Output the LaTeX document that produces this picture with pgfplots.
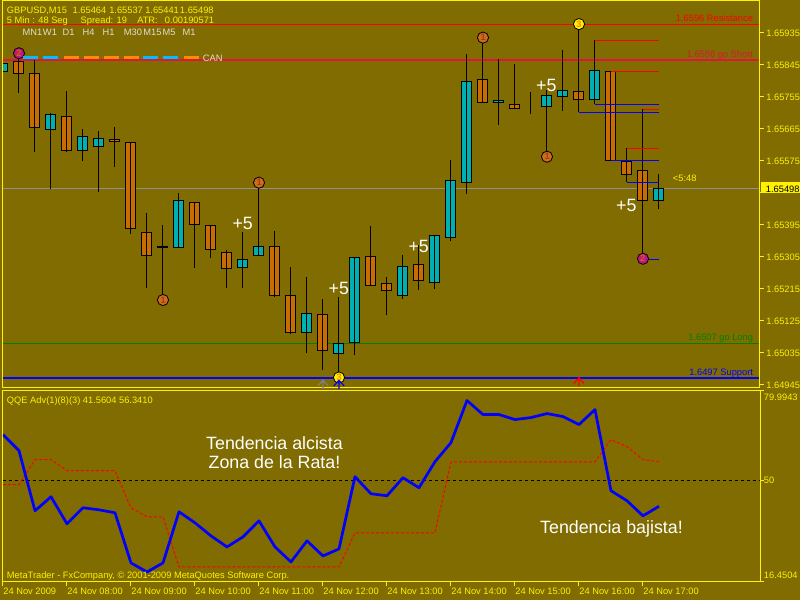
\documentclass[border=0pt]{standalone}
\usepackage{pgfplots}
\pgfplotsset{compat=1.18}
\usepackage{pgfplotstable}
\usepackage{fontspec}
\setmainfont{Liberation Sans}

\definecolor{bg}{HTML}{806C00}
\definecolor{bull}{HTML}{00B0B0}
\definecolor{bear}{HTML}{C86E00}
\definecolor{tfblue}{HTML}{00BFFF}
\definecolor{tforange}{HTML}{FF8C00}
\definecolor{tfgrey}{HTML}{E0E0D0}
\definecolor{lvlshort}{HTML}{E0143C}
\definecolor{lvllong}{HTML}{008000}
\definecolor{curprice}{HTML}{909090}
\definecolor{mkorange}{HTML}{D2691E}
\definecolor{mkmagenta}{HTML}{C0148C}

\newcommand\mt{\fontsize{4.65}{5.5}\selectfont}
\newcommand\bigtxt{\fontsize{8.9}{10}\selectfont}

% little up arrow used by the signal marks at the bottom
\pgfdeclareplotmark{uparr}{%
  \pgfpathmoveto{\pgfqpoint{-\pgfplotmarksize}{-0.4\pgfplotmarksize}}%
  \pgfpathlineto{\pgfqpoint{0pt}{0.7\pgfplotmarksize}}%
  \pgfpathlineto{\pgfqpoint{\pgfplotmarksize}{-0.4\pgfplotmarksize}}%
  \pgfpathmoveto{\pgfqpoint{0pt}{0.7\pgfplotmarksize}}%
  \pgfpathlineto{\pgfqpoint{0pt}{-\pgfplotmarksize}}%
  \pgfusepathqstroke}

% GBPUSD M15, bar 0 = 07:00
\pgfplotstableread{
i o h l c
0 1.65827 1.65856 1.65767 1.65850
1 1.65855 1.65882 1.65767 1.65822
2 1.65822 1.65859 1.65601 1.65670
3 1.65664 1.65711 1.65497 1.65707
4 1.65701 1.65772 1.65601 1.65605
5 1.65605 1.65665 1.65576 1.65644
6 1.65615 1.65659 1.65489 1.65639
7 1.65636 1.65670 1.65559 1.65630
8 1.65628 1.65628 1.65369 1.65386
9 1.65375 1.65428 1.65217 1.65310
10 1.65334 1.65394 1.65195 1.65331
11 1.65332 1.65484 1.65332 1.65464
12 1.65459 1.65459 1.65275 1.65397
13 1.65394 1.65394 1.65303 1.65327
14 1.65318 1.65325 1.65217 1.65273
15 1.65276 1.65375 1.65217 1.65299
16 1.65310 1.65512 1.65310 1.65334
17 1.65334 1.65377 1.65192 1.65197
18 1.65197 1.65276 1.65088 1.65092
19 1.65093 1.65249 1.65034 1.65147
20 1.65144 1.65186 1.64986 1.65043
21 1.65034 1.65192 1.64968 1.65062
22 1.65065 1.65304 1.65029 1.65304
23 1.65307 1.65391 1.65225 1.65225
24 1.65231 1.65248 1.65143 1.65211
25 1.65197 1.65310 1.65186 1.65279
26 1.65285 1.65340 1.65211 1.65240
27 1.65234 1.65366 1.65214 1.65366
28 1.65359 1.65578 1.65351 1.65521
29 1.65515 1.65875 1.65481 1.65799
30 1.65805 1.65921 1.65737 1.65740
31 1.65740 1.65861 1.65675 1.65746
32 1.65734 1.65847 1.65723 1.65723
33 1.65726 1.65768 1.65706 1.65726
34 1.65729 1.65774 1.65587 1.65760
35 1.65757 1.65886 1.65715 1.65774
36 1.65771 1.65962 1.65712 1.65749
37 1.65749 1.65915 1.65734 1.65830
38 1.65827 1.65827 1.65577 1.65577
39 1.65574 1.65611 1.65515 1.65538
40 1.65549 1.65720 1.65301 1.65464
41 1.65464 1.65537 1.65441 1.65498
}\candles

% QQE main line
\pgfplotstableread{
i v
0 65.36
1 60.03
2 40.07
3 44.73
4 35.75
5 41.07
6 40.40
7 39.41
8 22.77
9 19.78
10 22.77
11 39.74
12 36.08
13 31.75
14 28.09
15 31.42
16 36.74
17 28.09
18 23.10
19 30.09
20 25.10
21 27.43
22 51.38
23 45.73
24 45.06
25 51.05
26 47.72
27 56.37
28 62.69
29 76.67
30 72.01
31 72.01
32 70.35
33 71.01
34 72.34
35 71.34
36 68.68
37 73.67
38 46.73
39 43.40
40 38.41
41 41.56
}\qqe

% QQE trailing line
\pgfplotstableread{
i v
0 48.72
1 48.72
2 57.04
3 57.04
4 53.38
5 53.38
6 53.38
7 53.38
8 41.07
9 38.08
10 38.08
11 21.44
12 21.44
13 21.44
14 21.44
15 21.44
16 21.44
17 21.44
18 21.44
19 21.44
20 21.44
21 21.44
22 32.75
23 32.75
24 32.75
25 32.75
26 32.75
27 32.75
28 56.34
29 56.34
30 56.34
31 56.34
32 56.34
33 56.34
34 56.34
35 56.34
36 56.34
37 56.34
38 63.69
39 61.36
40 57.04
41 56.34
}\qqesig

\pgfplotsset{
  pricepanel/.style={at={(1.5pt,106pt)}, anchor=south west, scale only axis,
    width=378.5pt, height=193.5pt, xmin=0, xmax=47.3125,
    ymin=1.6493656, ymax=1.66025, enlargelimits=false},
}

\begin{document}
\begin{tikzpicture}
\fill[bg] (0,0) rectangle (400pt,300pt);

% levels behind the candles
\begin{axis}[pricepanel, hide axis]
  \addplot[red, line width=0.6pt] coordinates {(0,1.65960) (47.3125,1.65960)};
  \addplot[lvlshort, line width=0.6pt] coordinates {(0,1.65859) (47.3125,1.65859)};
  \addplot[curprice, line width=0.5pt] coordinates {(0,1.65498) (47.3125,1.65498)};
  \addplot[lvllong, line width=0.6pt] coordinates {(0,1.65062) (47.3125,1.65062)};
  \addplot[blue, line width=0.8pt] coordinates {(0,1.64965) (47.3125,1.64965)};
\end{axis}

% candles, y in pips above 1.6490 so the stacked bars start near the panel
\begin{axis}[pricepanel, hide axis, ymin=3.656, ymax=112.5,
    ybar stacked, bar width=0.625]
  \addplot[draw=none, fill=none,
      error bars/.cd, y dir=both, y explicit, error mark=none,
      error bar style={draw=black, line width=0.5pt}]
    table[x=i, y expr={(min(\thisrow{o},\thisrow{c})-1.649)*10000},
      y error plus expr={(\thisrow{h}-min(\thisrow{o},\thisrow{c}))*10000},
      y error minus expr={(min(\thisrow{o},\thisrow{c})-\thisrow{l})*10000}]{\candles};
  \addplot[fill=bull, draw=black, line width=0.5pt]
    table[x=i, y expr={max(\thisrow{c}-\thisrow{o},0)*10000}]{\candles};
  \addplot[fill=bear, draw=black, line width=0.5pt]
    table[x=i, y expr={max(\thisrow{o}-\thisrow{c},0)*10000}]{\candles};
\end{axis}

% frame, price scale, highs/lows and signal marks
\begin{axis}[pricepanel,
    axis line style={yellow, line width=0.5pt},
    xtick=\empty,
    ytick={1.64945,1.65035,1.65125,1.65215,1.65305,1.65395,1.65485,1.65575,1.65665,1.65755,1.65845,1.65935},
    yticklabels={1.64945,1.65035,1.65125,1.65215,1.65305,1.65395,,1.65575,1.65665,1.65755,1.65845,1.65935},
    ytick pos=right, yticklabel pos=right,
    tick align=outside, major tick length=2pt,
    tick style={yellow, line width=0.5pt},
    yticklabel style={font=\mt, text=yellow, inner sep=0pt, anchor=west},
    yticklabel shift=1pt]
  \addplot[red, line width=0.5pt] coordinates {(37,1.65914) (41,1.65914)};
  \addplot[red, line width=0.5pt] coordinates {(38,1.65827) (41,1.65827)};
  \addplot[red, line width=0.5pt] coordinates {(40,1.65720) (41,1.65720)};
  \addplot[red, line width=0.5pt] coordinates {(39,1.65611) (41,1.65611)};
  \addplot[blue, line width=0.5pt] coordinates {(37,1.65734) (41,1.65734)};
  \addplot[blue, line width=0.5pt] coordinates {(36,1.65712) (41,1.65712)};
  \addplot[blue, line width=0.5pt] coordinates {(38,1.65577) (41,1.65577)};
  \addplot[blue, line width=0.5pt] coordinates {(39,1.65515) (41,1.65515)};
  \addplot[blue, line width=0.5pt] coordinates {(40,1.65299) (41,1.65299)};
  \addplot[only marks, mark=*, mark size=2.8pt, mark options={draw=none, fill=mkorange}]
    coordinates {(10,1.65184) (16,1.65514) (30,1.65922) (34,1.65587)};
  \addplot[only marks, mark=*, mark size=2.8pt, mark options={draw=none, fill=mkmagenta}]
    coordinates {(1,1.65878) (40,1.65300)};
  \addplot[only marks, mark=*, mark size=2.8pt, mark options={draw=none, fill=yellow}]
    coordinates {(21,1.64966) (36,1.65960)};
  \addplot[only marks, mark=uparr, mark size=2.6pt, mark options={draw=gray, line width=0.6pt}]
    coordinates {(20,1.64948)};
  \addplot[only marks, mark=uparr, mark size=2.6pt, mark options={draw=blue, line width=0.6pt}]
    coordinates {(21,1.64948)};
  \addplot[only marks, mark=uparr, mark size=2.6pt, mark options={draw=red, line width=0.6pt}]
    coordinates {(36,1.64955)};
\end{axis}

% QQE panel
\begin{axis}[at={(1.5pt,9pt)}, anchor=south west, scale only axis,
    width=378.75pt, height=95.75pt,
    xmin=0, xmax=47.34375, ymin=16.4504, ymax=79.9943, enlargelimits=false,
    axis line style={yellow, line width=0.5pt},
    tick align=outside, major tick length=2pt,
    tick style={yellow, line width=0.5pt},
    xtick={0,4,...,40},
    xticklabels={24 Nov 2009, 24 Nov 08:00, 24 Nov 09:00, 24 Nov 10:00, 24 Nov 11:00, 24 Nov 12:00, 24 Nov 13:00, 24 Nov 14:00, 24 Nov 15:00, 24 Nov 16:00, 24 Nov 17:00},
    xtick pos=lower, ytick pos=right,
    ytick={16.4504,50,79.9943}, yticklabels={},
    xticklabel style={font=\mt, text=yellow, anchor=north west, inner sep=0pt},
    xticklabel shift=1pt]
  \addplot[black, line width=0.5pt, dash pattern=on 1.5pt off 1.5pt]
    coordinates {(0,50) (47.34375,50)};
  \addplot[red, line width=0.5pt, dash pattern=on 1.5pt off 1pt] table[x=i, y=v]{\qqesig};
  \addplot[blue, line width=1.35pt, line join=round] table[x=i, y=v]{\qqe};
\end{axis}

% texts, in screen pixels (y down)
\begin{scope}[x=0.5pt, y=-0.5pt, shift={(0pt,300pt)},
    every node/.style={inner sep=0pt, outer sep=0pt}]
  \node[anchor=base west, text=yellow] at (7,13.5) {\mt GBPUSD,M15};
  \node[anchor=base west, text=yellow] at (72.7,13.5) {\mt 1.65464};
  \node[anchor=base west, text=yellow] at (109.3,13.5) {\mt 1.65537};
  \node[anchor=base west, text=yellow] at (145.3,13.5) {\mt 1.65441};
  \node[anchor=base west, text=yellow] at (180,13.5) {\mt 1.65498};
  \node[anchor=base west, text=yellow] at (7,23.5) {\mt 5 Min : 48 Seg};
  \node[anchor=base west, text=yellow] at (80.7,23.5) {\mt Spread: 19};
  \node[anchor=base west, text=yellow] at (137.3,23.5) {\mt ATR:};
  \node[anchor=base west, text=yellow] at (165,23.5) {\mt 0.00190571};

  \foreach \x/\t in {22.7/MN1, 43/W1, 62.7/D1, 82.7/H4, 102.7/H1, 124/M30, 143.5/M15, 162.7/M5, 182.7/M1}
    \node[anchor=base west, text=tfgrey] at (\x,36) {\mt \t};
  \foreach \x/\c in {23/tfblue, 43/tfblue, 64/tforange, 84/tforange, 104/tforange, 124/tforange, 143/tfblue, 163/tfblue, 184/tforange}
    \fill[\c] (\x,56) rectangle +(15,3);
  \node[anchor=base west, text=tfgrey] at (203,61.5) {\mt CAN};

  \node[anchor=base east, text=red] at (753,22) {\mt 1.6596 Resistance};
  \node[anchor=base east, text=lvlshort] at (753,57.5) {\mt 1.6586 go Short};
  \node[anchor=base east, text=lvllong] at (753,340.5) {\mt 1.6507 go Long};
  \node[anchor=base east, text=blue] at (753,375.5) {\mt 1.6497 Support};
  \node[anchor=base west, text=yellow] at (673,181.5) {\mt <5:48};

  \fill[yellow] (761.5,182.5) rectangle (800,193.5);
  \node[anchor=base west, text=black] at (766,192.5) {\mt 1.65498};

  \foreach \x/\y in {163.3/300, 259.3/182.7, 483.3/37.7, 547.3/156.7}
    \node[text=mkorange!70!black] at (\x,\y) {\mt\bfseries 1};
  \foreach \x/\y in {19/53.3, 642.7/258.7}
    \node[text=orange!80!black] at (\x,\y) {\mt\bfseries 2};
  \foreach \x/\y in {339.3/377.7, 579/24}
    \node[text=orange] at (\x,\y) {\mt\bfseries 3};

  \foreach \x/\y in {242.7/230, 338.8/294.3, 418.7/252.7, 546.3/91.7, 626.3/211.7}
    \node[anchor=base, text=white] at (\x,\y) {\bigtxt +5};

  \node[anchor=base west, text=yellow] at (7,404) {\mt QQE Adv(1)(8)(3) 41.5604 56.3410};
  \node[anchor=base west, text=yellow] at (764,401) {\mt 79.9943};
  \node[anchor=base west, text=yellow] at (764,483.7) {\mt 50};
  \node[anchor=base west, text=yellow] at (764,579) {\mt 16.4504};
  \node[anchor=base west, text=yellow] at (7,578.5) {\mt MetaTrader - FxCompany, © 2001-2009 MetaQuotes Software Corp.};
  \node[anchor=base, text=white] at (274.5,449.3) {\bigtxt Tendencia alcista};
  \node[anchor=base, text=white] at (274.5,468.3) {\bigtxt Zona de la Rata!};
  \node[anchor=base, text=white] at (611.5,533.5) {\bigtxt Tendencia bajista!};
\end{scope}
\end{tikzpicture}
\end{document}
